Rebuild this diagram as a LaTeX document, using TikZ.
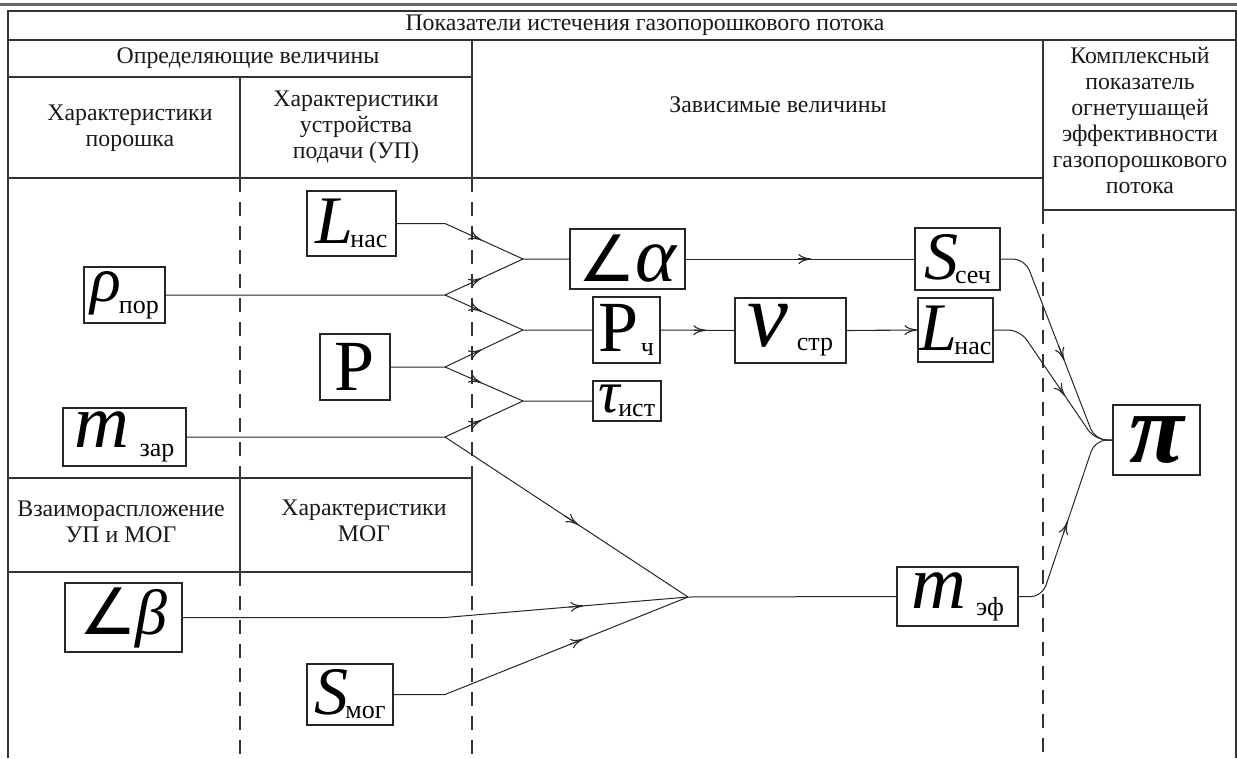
\documentclass[tikz,border=0pt]{standalone}
\usepackage{fontspec}
\setmainfont{Liberation Serif}
\newfontfamily\symfnt{DejaVu Sans}
\usetikzlibrary{arrows.meta,calc}
\newcommand\hdrfont{\fontsize{23.8}{26}\selectfont}
\newcommand\BigLet[2][68]{{\fontsize{#1}{#1}\selectfont\itshape #2}}
\newcommand\BigUp[1]{{\fontsize{72}{72}\selectfont #1}}
\newcommand\SubT[1]{\raisebox{-4pt}{\fontsize{26}{26}\selectfont #1}}
\newcommand\Ang{{\symfnt\fontsize{64}{64}\selectfont ∠}}
\begin{document}
\begin{tikzpicture}[x=1pt,y=-1pt,
  frame/.style={line width=1.1pt, black!80},
  dashln/.style={line width=1.1pt, black!80, dash pattern=on 14pt off 10pt},
  sbox/.style={draw, line width=1.1pt, inner sep=0pt, black!85, text=black},
  conn/.style={line width=1pt, black!85},
  rconn/.style={line width=1pt, black!85, rounded corners=12pt},
  tip/.style={line width=1.1pt, black!85, -{To[length=13pt,width=10pt]}},
  hd/.style={font=\hdrfont, align=center, text=black!90, inner sep=0pt},
]
\useasboundingbox (0,0) rectangle (1237,758);
% top band
\draw[line width=3pt, black!60] (0,4) -- (1237,4);
% frame and grid
\draw[frame] (8,758) -- (8,11) -- (1236,11) -- (1236,758);
\draw[frame] (8,40) -- (1236,40);
\draw[frame] (8,77) -- (472,77);
\draw[frame] (8,178) -- (1043,178);
\draw[frame] (1043,210) -- (1236,210);
\draw[frame] (8,478) -- (472,478);
\draw[frame] (8,572) -- (472,572);
\draw[frame] (472,40) -- (472,178);
\draw[frame] (240,77) -- (240,178);
\draw[frame] (1043,40) -- (1043,210);
\draw[frame] (240,478) -- (240,572);
\draw[frame] (472,478) -- (472,572);
\draw[dashln] (240,178) -- (240,478);
\draw[dashln] (472,178) -- (472,478);
\draw[dashln] (240,572) -- (240,758);
\draw[dashln] (472,572) -- (472,758);
\draw[dashln] (1043,210) -- (1043,758);

% header texts
\node[hd] (t0) at (645,25) {Показатели истечения газопорошкового потока};
\node[hd] (t1) at (248,58) {Определяющие величины};
\node[hd] (t2) at (130,128) {Характеристики\\порошка};
\node[hd] (t3) at (356,127) {Характеристики\\устройства\\подачи (УП)};
\node[hd] (t4) at (778,105) {Зависимые величины};
\node[hd] (t5) at (1140,120) {Комплексный\\показатель\\огнетушащей\\эффективности\\газопорошкового\\потока};
\node[hd] (t6) at (121,522) {Взаимораспложение\\УП и МОГ};
\node[hd] (t7) at (364,521) {Характеристики\\МОГ};

% boxes
\node[sbox, minimum width=89pt, minimum height=65pt] (Lnas1) at (351.5,223.5) {\BigLet{L}\kern-3pt\SubT{нас}};
\node[sbox, minimum width=81pt, minimum height=56pt] (rho) at (124.5,295) {\raisebox{6pt}{\BigLet[64]{ρ}}\kern-2pt\SubT{\raisebox{-2pt}{пор}}};
\node[sbox, minimum width=70pt, minimum height=66pt] (P) at (355,367) {\BigUp{P}};
\node[sbox, minimum width=123pt, minimum height=58pt] (mzar) at (124.5,437) {\BigLet[76]{m}\hspace{10pt}\SubT{\raisebox{-5pt}{зар}}};
\node[sbox, minimum width=117pt, minimum height=69pt] (beta) at (123.5,617.5) {\Ang\kern-2pt\BigLet[64]{β}};
\node[sbox, minimum width=86pt, minimum height=61pt] (Smog) at (350,694.5) {\BigLet{S}\kern-3pt\SubT{мог}};
\node[sbox, minimum width=115pt, minimum height=60pt] (alpha) at (627.5,259) {\Ang\kern-1pt\BigLet[78]{α}};
\node[sbox, minimum width=67pt, minimum height=66pt] (Pch) at (626.5,330) {\BigUp{P}\kern2pt\SubT{ч}};
\node[sbox, minimum width=68pt, minimum height=40pt] (tau) at (627,401) {\BigLet[60]{τ}\kern-2pt\SubT{ист}};
\node[sbox, minimum width=111pt, minimum height=65pt] (vstr) at (790.5,330.5) {\BigLet[92]{v}\hspace{8pt}\SubT{стр}};
\node[sbox, minimum width=75pt, minimum height=64pt] (Lnas2) at (955.5,330) {\BigLet{L}\kern-3pt\SubT{нас}};
\node[sbox, minimum width=85pt, minimum height=62pt] (Ssech) at (957.5,259) {\BigLet{S}\kern-3pt\SubT{сеч}};
\node[sbox, minimum width=87pt, minimum height=70pt] (pi) at (1156.5,440) {{\fontsize{100}{100}\selectfont\bfseries\itshape π}};
\node[sbox, minimum width=121pt, minimum height=59pt] (mef) at (957.5,596.5) {\BigLet[76]{m}\hspace{10pt}\SubT{\raisebox{-3pt}{эф}}};

% fork points
\coordinate (xb) at (445,0);
\coordinate (fa) at (523,259);
\coordinate (fp) at (523,330);
\coordinate (ft) at (523,401);
\coordinate (fm) at (688,597);
\coordinate (fpi) at (1095,440);
\coordinate (bL) at (Lnas1.east -| xb);
\coordinate (bR) at (rho.east -| xb);
\coordinate (bP) at (P.east -| xb);
\coordinate (bM) at (mzar.east -| xb);
\coordinate (bB) at (beta.east -| xb);
\coordinate (bS) at (Smog.east -| xb);
\coordinate (cS) at (1025,259);
\coordinate (cL) at (1020,330);
\coordinate (cM) at (1042,597);

% left connectors
\draw[conn] (Lnas1.east) -- (bL) -- (fa) -- (alpha.west);
\draw[conn] (rho.east) -- (bR) -- (fa);
\draw[conn] (bR) -- (fp) -- (Pch.west);
\draw[conn] (P.east) -- (bP) -- (fp);
\draw[conn] (bP) -- (ft) -- (tau.west);
\draw[conn] (mzar.east) -- (bM) -- (ft);
\draw[conn] (bM) -- (fm) -- (mef.west);
\draw[conn] (beta.east) -- (bB) -- (fm);
\draw[conn] (Smog.east) -- (bS) -- (fm);
% middle connectors
\draw[conn] (alpha.east) -- (Ssech.west);
\draw[conn] (Pch.east) -- (vstr.west);
\draw[tip] (vstr.east) -- (Lnas2.west);
% right connectors
\draw[rconn] (Ssech.east) -- (cS) -- (fpi) -- (pi.west);
\draw[rconn] (Lnas2.east) -- (cL) -- (fpi) -- (pi.west);
\draw[rconn] (mef.east) -- (cM) -- (fpi) -- (pi.west);

% arrow tips on connectors
\draw[tip] ($(bL)!0.38!(fa)$) -- ($(bL)!0.47!(fa)$);
\draw[tip] ($(bR)!0.38!(fa)$) -- ($(bR)!0.47!(fa)$);
\draw[tip] ($(bR)!0.38!(fp)$) -- ($(bR)!0.47!(fp)$);
\draw[tip] ($(bP)!0.38!(fp)$) -- ($(bP)!0.47!(fp)$);
\draw[tip] ($(bP)!0.38!(ft)$) -- ($(bP)!0.47!(ft)$);
\draw[tip] ($(bM)!0.38!(ft)$) -- ($(bM)!0.47!(ft)$);
\draw[tip] ($(bM)!0.49!(fm)$) -- ($(bM)!0.55!(fm)$);
\draw[tip] ($(bB)!0.51!(fm)$) -- ($(bB)!0.57!(fm)$);
\draw[tip] ($(bS)!0.51!(fm)$) -- ($(bS)!0.57!(fm)$);
\draw[tip] ($(alpha.east)!0.49!(Ssech.west)$) -- ($(alpha.east)!0.55!(Ssech.west)$);
\draw[tip] ($(Pch.east)!0.45!(vstr.west)$) -- ($(Pch.east)!0.62!(vstr.west)$);
\draw[tip] ($(cS)!0.48!(fpi)$) -- ($(cS)!0.56!(fpi)$);
\draw[tip] ($(cL)!0.52!(fpi)$) -- ($(cL)!0.60!(fpi)$);
\draw[tip] ($(cM)!0.40!(fpi)$) -- ($(cM)!0.48!(fpi)$);
\end{tikzpicture}
\end{document}
